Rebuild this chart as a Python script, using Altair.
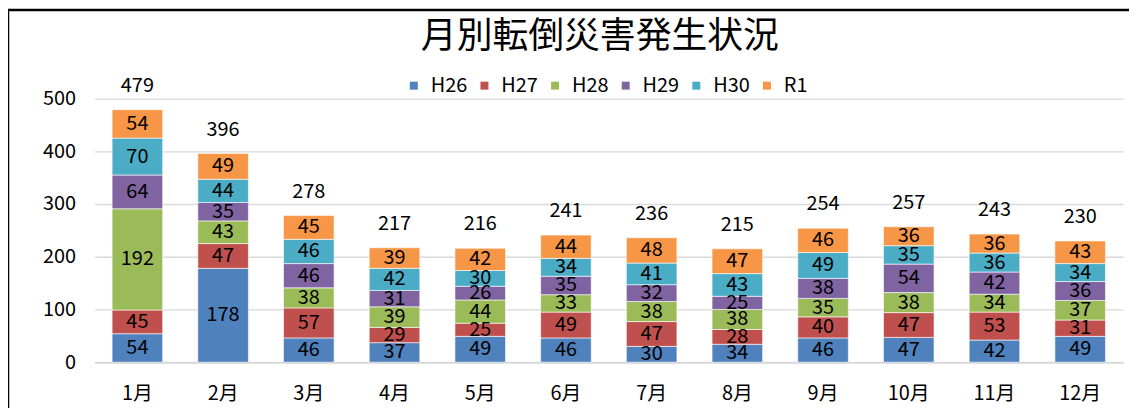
import altair as alt
import pandas as pd

months = ["1月", "2月", "3月", "4月", "5月", "6月", "7月", "8月", "9月", "10月", "11月", "12月"]
series = ["H26", "H27", "H28", "H29", "H30", "R1"]
colors = ["#4F81BD", "#C0504D", "#9BBB59", "#8064A2", "#4BACC6", "#F79646"]
title_text = "月別転倒災害発生状況"

H26 = [54, 178, 46, 37, 49, 46, 30, 34, 46, 47, 42, 49]
H27 = [45, 47, 57, 29, 25, 49, 47, 28, 40, 47, 53, 31]
H28 = [192, 43, 38, 39, 44, 33, 38, 38, 35, 38, 34, 37]
H29 = [64, 35, 46, 31, 26, 35, 32, 25, 38, 54, 42, 36]
H30 = [70, 44, 46, 42, 30, 34, 41, 43, 49, 35, 36, 34]
R1 = [54, 49, 45, 39, 42, 44, 48, 47, 46, 36, 36, 43]

y_ticks = [0, 100, 200, 300, 400, 500]

values = [H26, H27, H28, H29, H30, R1]
rows = []
for si, (s, vals) in enumerate(zip(series, values)):
    for mi, m in enumerate(months):
        rows.append({"month": m, "series": s, "idx": si, "value": vals[mi]})
df = pd.DataFrame(rows)

FONT = "Noto Sans CJK JP"
W, H = 1034, 265

base = alt.Chart(df).transform_stack(
    stack="value", groupby=["month"], as_=["v0", "v1"], sort=[{"field": "idx", "order": "ascending"}]
).transform_calculate(mid="(datum.v0 + datum.v1) / 2")

xenc = alt.X("month:N", sort=months, title=None,
             scale=alt.Scale(paddingInner=0.41, paddingOuter=0.205),
             axis=alt.Axis(labelAngle=0, ticks=False, domainColor="#d9d9d9", domainWidth=2,
                           labelFontSize=20, labelPadding=22, labelColor="#000000", labelFont=FONT))

yscale = alt.Scale(domain=[0, 500], nice=False)

bars = base.mark_bar(stroke="white", strokeWidth=1, strokeOpacity=0.6).encode(
    x=xenc,
    y=alt.Y("v0:Q", scale=yscale, title=None,
            axis=alt.Axis(values=y_ticks, domain=False, ticks=False, gridColor="#d9d9d9", gridWidth=1.3,
                          labelFontSize=20, labelPadding=19, labelColor="#000000", labelFont=FONT)),
    y2="v1:Q",
    color=alt.Color("series:N", sort=series,
                    scale=alt.Scale(domain=series, range=colors),
                    legend=alt.Legend(title=None, orient="none", legendX=311, legendY=-23,
                                      direction="horizontal", columns=6, symbolType="square",
                                      symbolSize=64, symbolStrokeWidth=0, labelFontSize=20,
                                      labelFont=FONT, labelColor="#000000", columnPadding=7,
                                      labelOffset=7)),
)

seg_labels = base.mark_text(fontSize=20, font=FONT, color="#000000", baseline="middle").encode(
    x=alt.X("month:N", sort=months),
    y=alt.Y("mid:Q", scale=yscale),
    text="value:Q",
)

totals = alt.Chart(df).transform_aggregate(total="sum(value)", groupby=["month"]).mark_text(
    fontSize=20, font=FONT, color="#000000", baseline="alphabetic", dy=-18
).encode(
    x=alt.X("month:N", sort=months),
    y=alt.Y("total:Q", scale=yscale),
    text="total:Q",
)

title = alt.Chart(pd.DataFrame({"t": [title_text]})).mark_text(
    fontSize=36, font=FONT, color="#000000", baseline="middle", align="center"
).encode(x=alt.value(508), y=alt.value(-62), text="t:N")

frame = alt.Chart(pd.DataFrame({"a": [0]})).mark_rect(filled=False, stroke="#000000", strokeWidth=2.5).encode(
    x=alt.value(-87), x2=alt.value(1060), y=alt.value(-89), y2=alt.value(340)
)

chart = alt.layer(bars, seg_labels, totals, title, frame).properties(
    width=W, height=H,
    autosize=alt.AutoSizeParams(type="none"),
    padding={"left": 87, "top": 90, "right": 6, "bottom": 45},
).configure_view(stroke=None)

chart.save("out.html", embed_options={"renderer": "svg", "actions": False})
